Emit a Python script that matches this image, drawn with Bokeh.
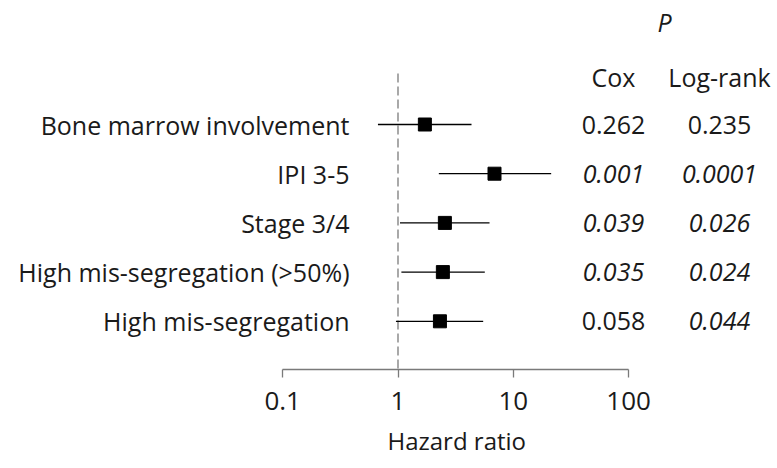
from bokeh.plotting import figure
from bokeh.models import ColumnDataSource, Range1d, FixedTicker, Title
from bokeh.core.properties import value
from bokeh.embed import file_html
from bokeh.resources import INLINE

# ---- data ----
labels = ["Bone marrow involvement", "IPI 3-5", "Stage 3/4",
          "High mis-segregation (>50%)", "High mis-segregation"]
hr = [1.71, 6.87, 2.55, 2.45, 2.31]
ci_low = [0.67, 2.26, 1.04, 1.07, 0.96]
ci_high = [4.34, 21.3, 6.22, 5.66, 5.48]
p_cox = ["0.262", "0.001", "0.039", "0.035", "0.058"]
p_logrank = ["0.235", "0.0001", "0.026", "0.024", "0.044"]
cox_italic = [False, True, True, True, False]
logrank_italic = [False, True, True, True, True]
tick_values = [0.1, 1, 10, 100]
x_title = "Hazard ratio"

FONT = "Open Sans"
W, H = 777, 468

# layout helpers (canvas pixel -> data)
PX_DEC = 115.3
X1_PX = 397.5          # canvas pixel of HR = 1


def xdata(px):
    return 10 ** ((px - X1_PX) / PX_DEC)


ROW0 = 124
ROW_H = 49.2


def ydata(px):
    return (px - ROW0) / ROW_H


frame_bottom = 369
p = figure(width=W, height=H, x_axis_type="log",
           x_range=Range1d(xdata(0), xdata(W)),
           y_range=Range1d(ydata(frame_bottom), ydata(0)),
           y_axis_location=None, output_backend="svg", toolbar_location=None,
           min_border_left=0, min_border_right=0, min_border_top=0,
           min_border_bottom=H - frame_bottom)
p.outline_line_color = None
p.xgrid.visible = False
p.ygrid.visible = False
p.background_fill_color = "white"
p.border_fill_color = "white"

rows = list(range(len(labels)))
src = ColumnDataSource(dict(
    y=rows, hr=hr, lo=ci_low, hi=ci_high, label=labels,
    cox=p_cox, lr=p_logrank,
    cox_style=["italic" if b else "normal" for b in cox_italic],
    lr_style=["italic" if b else "normal" for b in logrank_italic],
))

# reference line at HR = 1
p.segment(x0=[1], x1=[1], y0=[ydata(73)], y1=[ydata(frame_bottom)],
          line_color="#7a7a7a", line_width=1.3, line_dash="9 4")

# CIs and points
p.segment(x0="lo", x1="hi", y0="y", y1="y", source=src,
          line_color="black", line_width=1.3)
p.scatter(x="hr", y="y", source=src, marker="square", size=13,
          fill_color="black", line_color="black")

fs = "25px"
col = "#1a1a1a"
p.text(x=xdata(349), y="y", text="label", source=src, text_align="right",
       text_baseline="middle", text_font=value(FONT), text_font_size=fs,
       text_color=col)
p.text(x=xdata(613), y="y", text="cox", source=src, text_align="center",
       text_baseline="middle", text_font=value(FONT), text_font_size=fs,
       text_font_style="cox_style", text_color=col)
p.text(x=xdata(719), y="y", text="lr", source=src, text_align="center",
       text_baseline="middle", text_font=value(FONT), text_font_size=fs,
       text_font_style="lr_style", text_color=col)
# headers
p.text(x=[xdata(613), xdata(719)], y=[ydata(76)] * 2,
       text=["Cox", "Log-rank"], text_align="center", text_baseline="middle",
       text_font=value(FONT), text_font_size=fs, text_color=col)
p.text(x=[xdata(664)], y=[ydata(21)], text=["P"], text_align="center",
       text_baseline="middle", text_font=value(FONT), text_font_size=fs,
       text_font_style="italic", text_color=col)

ax = p.xaxis[0]
ax.ticker = FixedTicker(ticks=tick_values, minor_ticks=[])
ax.bounds = (tick_values[0], tick_values[-1])
ax.major_label_overrides = {t: f"{t:g}" for t in tick_values}
ax.axis_line_color = "#7a7a7a"
ax.axis_line_width = 1.3
ax.major_tick_line_color = "#7a7a7a"
ax.major_tick_line_width = 1.3
ax.major_tick_out = 8
ax.major_tick_in = 0
ax.minor_tick_out = 0
ax.minor_tick_in = 0
ax.major_label_text_font = FONT
ax.major_label_text_font_size = "26px"
ax.major_label_text_color = col
ax.major_label_standoff = 14

# axis title placed under the bounded axis
p.add_layout(Title(text=x_title, align="left", offset=387,
                   text_font=FONT, text_font_size="24px",
                   text_font_style="normal", text_color=col,
                   standoff=18), "below")

open("out.html", "w").write(file_html(p, INLINE))
